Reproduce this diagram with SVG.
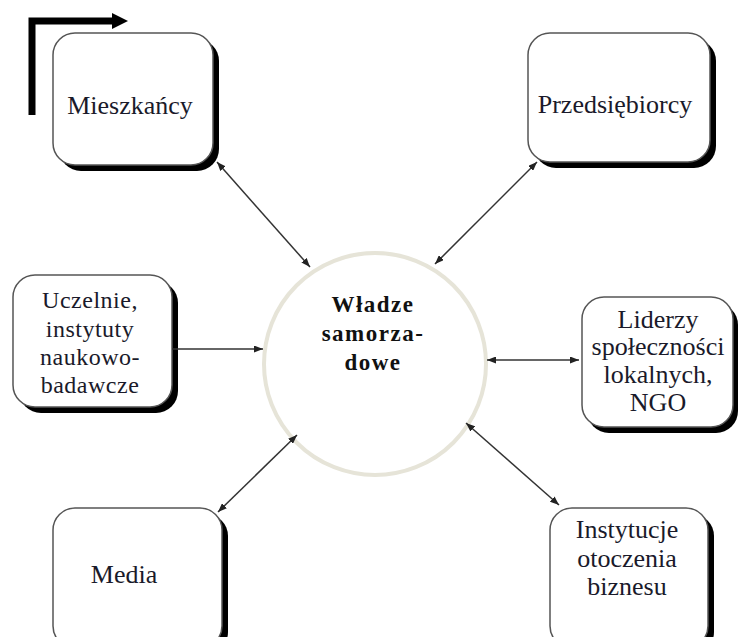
<svg xmlns="http://www.w3.org/2000/svg" width="739" height="637" viewBox="0 0 739 637">
<defs>
<style>
.shadow{fill:#000}
.box{fill:#fff;stroke:#555;stroke-width:1.5}
.lbl{font-family:"Liberation Serif","Times New Roman",serif;font-size:26px;fill:#1a1a2a;text-anchor:middle}
.small{font-size:24px;letter-spacing:0.5px}
.ctr{font-family:"Liberation Serif","Times New Roman",serif;font-size:23px;font-weight:bold;letter-spacing:1.5px;fill:#111;text-anchor:middle}
.con{stroke:#333;stroke-width:1.5;fill:none}
</style>
<marker id="ah" viewBox="0 0 9 7" refX="9" refY="3.5" markerWidth="9" markerHeight="7" markerUnits="userSpaceOnUse" orient="auto-start-reverse">
<path d="M0,0 L9,3.5 L0,7 z" fill="#222"/>
</marker>
</defs>
<rect width="739" height="637" fill="#fff"/>

<g id="cycle-arrow">
<path d="M32,115 V21 H115" stroke="#000" stroke-width="7" fill="none"/>
<polygon points="112,13 128,21 112,29" fill="#000"/>
</g>

<g id="center">
<circle cx="375" cy="364" r="111" fill="#fff" stroke="#e6e4d8" stroke-width="4"/>
<text class="ctr" x="373" y="312">Władze</text>
<text class="ctr" x="373" y="341">samorza-</text>
<text class="ctr" x="373" y="370">dowe</text>
</g>

<g id="mieszkancy">
<rect class="shadow" x="59" y="39" width="160" height="132" rx="22"/>
<rect class="box" x="53" y="33" width="160" height="132" rx="22"/>
<text class="lbl" x="130" y="114">Mieszkańcy</text>
</g>

<g id="przedsiebiorcy">
<rect class="shadow" x="534" y="39" width="182" height="129" rx="22"/>
<rect class="box" x="528" y="33" width="182" height="129" rx="22"/>
<text class="lbl" x="615" y="113">Przedsiębiorcy</text>
</g>

<g id="uczelnie">
<rect class="shadow" x="19" y="281" width="159" height="132" rx="22"/>
<rect class="box" x="13" y="275" width="159" height="132" rx="22"/>
<text class="lbl small" x="90" y="308">Uczelnie,</text>
<text class="lbl small" x="90" y="337">instytuty</text>
<text class="lbl small" x="90" y="365">naukowo-</text>
<text class="lbl small" x="90" y="393">badawcze</text>
</g>

<g id="liderzy">
<rect class="shadow" x="587" y="303" width="151" height="130" rx="22"/>
<rect class="box" x="582" y="297" width="151" height="130" rx="22"/>
<text class="lbl" x="658" y="328">Liderzy</text>
<text class="lbl" x="658" y="355">społeczności</text>
<text class="lbl" x="658" y="383">lokalnych,</text>
<text class="lbl" x="658" y="411">NGO</text>
</g>

<g id="media">
<rect class="shadow" x="59" y="514" width="169" height="140" rx="22"/>
<rect class="box" x="53" y="508" width="169" height="140" rx="22"/>
<text class="lbl" x="124" y="583">Media</text>
</g>

<g id="instytucje">
<rect class="shadow" x="556" y="514" width="158" height="140" rx="22"/>
<rect class="box" x="550" y="508" width="158" height="140" rx="22"/>
<text class="lbl" x="627" y="538">Instytucje</text>
<text class="lbl" x="627" y="567">otoczenia</text>
<text class="lbl" x="627" y="595">biznesu</text>
</g>

<g id="connectors">
<line class="con" x1="217" y1="162" x2="310" y2="267" marker-start="url(#ah)" marker-end="url(#ah)"/>
<line class="con" x1="435" y1="264" x2="537" y2="162" marker-start="url(#ah)" marker-end="url(#ah)"/>
<line class="con" x1="172" y1="349" x2="263" y2="349" marker-end="url(#ah)"/>
<line class="con" x1="487" y1="360" x2="579" y2="360" marker-start="url(#ah)" marker-end="url(#ah)"/>
<line class="con" x1="218" y1="512" x2="297" y2="435" marker-start="url(#ah)" marker-end="url(#ah)"/>
<line class="con" x1="466" y1="423" x2="559" y2="505" marker-start="url(#ah)" marker-end="url(#ah)"/>
</g>
</svg>
